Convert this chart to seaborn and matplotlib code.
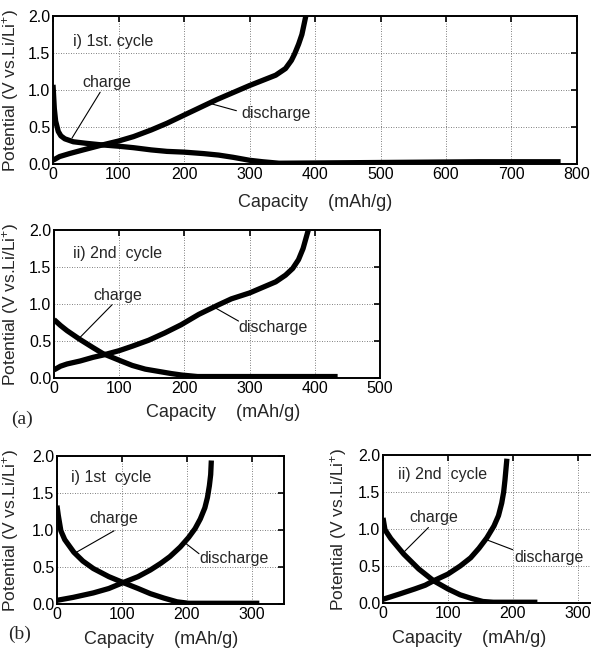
import matplotlib
matplotlib.use("Agg")
import matplotlib.pyplot as plt
import seaborn as sns
import numpy as np

# ---- (a) 1st cycle ----
a1_charge_cap = [0, 2, 4, 8, 12, 18, 31, 50, 72, 100, 123, 150, 174, 200, 230, 253,
                 275, 300, 320, 345, 500, 650, 775]
a1_charge_v = [1.07, 0.75, 0.58, 0.44, 0.38, 0.34, 0.30, 0.28, 0.26, 0.24, 0.22, 0.19,
               0.17, 0.16, 0.14, 0.12, 0.09, 0.05, 0.03, 0.01, 0.02, 0.03, 0.03]
a1_dis_cap = [0, 10, 25, 46, 72, 100, 123, 150, 174, 200, 250, 300, 340, 355, 364,
              369, 375, 380, 386]
a1_dis_v = [0.05, 0.10, 0.14, 0.19, 0.25, 0.31, 0.37, 0.46, 0.55, 0.66, 0.87, 1.06,
            1.20, 1.29, 1.40, 1.49, 1.62, 1.75, 2.00]

# ---- (a) 2nd cycle ----
a2_charge_cap = [0, 10, 20, 40, 60, 75, 100, 120, 140, 160, 180, 196, 220, 435]
a2_charge_v = [0.79, 0.71, 0.64, 0.52, 0.41, 0.33, 0.24, 0.17, 0.12, 0.09, 0.06, 0.04,
               0.02, 0.02]
a2_dis_cap = [0, 10, 20, 40, 60, 75, 100, 120, 145, 170, 195, 222, 250, 272, 300, 324,
              340, 355, 366, 375, 382, 390]
a2_dis_v = [0.11, 0.16, 0.19, 0.23, 0.28, 0.31, 0.37, 0.43, 0.51, 0.61, 0.72, 0.86,
            0.98, 1.07, 1.15, 1.24, 1.30, 1.39, 1.48, 1.60, 1.75, 2.00]

# ---- (b) 1st cycle ----
b1_charge_cap = [0, 2, 6, 12, 26, 40, 56, 80, 102, 125, 144, 165, 185, 203, 312]
b1_charge_v = [1.33, 1.20, 0.99, 0.87, 0.70, 0.58, 0.48, 0.37, 0.29, 0.21, 0.14, 0.08,
               0.03, 0.01, 0.01]
b1_dis_cap = [0, 25, 56, 80, 102, 125, 144, 160, 174, 190, 203, 213, 221, 228, 232,
              235, 237, 238]
b1_dis_v = [0.05, 0.09, 0.15, 0.21, 0.29, 0.37, 0.46, 0.55, 0.64, 0.77, 0.90, 1.02,
            1.15, 1.30, 1.44, 1.60, 1.75, 1.94]

# ---- (b) 2nd cycle ----
b2_charge_cap = [0, 3, 12, 32, 55, 78, 100, 119, 137, 154, 170, 238]
b2_charge_v = [1.15, 0.99, 0.87, 0.66, 0.46, 0.30, 0.19, 0.11, 0.06, 0.02, 0.01, 0.01]
b2_dis_cap = [0, 25, 49, 65, 78, 100, 119, 135, 148, 160, 171, 178, 183, 186, 188, 191]
b2_dis_v = [0.05, 0.12, 0.19, 0.24, 0.30, 0.39, 0.50, 0.61, 0.74, 0.88, 1.04, 1.18,
            1.35, 1.50, 1.66, 1.95]

y_ticks = [0.0, 0.5, 1.0, 1.5, 2.0]
y_tick_labels = ["0.0", "0.5", "1.0", "1.5", "2.0"]

sns.set_theme(style="white")
plt.rcParams["font.family"] = ["Liberation Sans", "DejaVu Sans"]
plt.rcParams["mathtext.default"] = "regular"

fig = plt.figure(figsize=(5.91, 6.53), dpi=100)
fig.patch.set_facecolor("white")

panels = [
    dict(rect=[0.0897, 0.7489, 0.8866, 0.2266], xmax=800, xticks=range(0, 801, 100),
         charge=(a1_charge_cap, a1_charge_v), dis=(a1_dis_cap, a1_dis_v),
         title="i) 1st. cycle", title_xy=(31, 1.65),
         ch_text=(45, 1.10), ch_line=((72, 0.97), (29, 0.35)),
         dc_text=(288, 0.68), dc_line=((280, 0.72), (235, 0.83)),
         xlab_x=0.5, xlab_y=-0.20, ylab_x=-0.061),
    dict(rect=[0.0914, 0.4211, 0.5516, 0.2266], xmax=500, xticks=range(0, 501, 100),
         charge=(a2_charge_cap, a2_charge_v), dis=(a2_dis_cap, a2_dis_v),
         title="ii) 2nd  cycle", title_xy=(29, 1.68),
         ch_text=(60, 1.12), ch_line=((89, 0.99), (40, 0.55)),
         dc_text=(282, 0.68), dc_line=((283, 0.77), (247, 0.95)),
         xlab_x=0.52, xlab_y=-0.175, ylab_x=-0.101),
    dict(rect=[0.0964, 0.0750, 0.3841, 0.2266], xmax=350, xticks=range(0, 301, 100),
         charge=(b1_charge_cap, b1_charge_v), dis=(b1_dis_cap, b1_dis_v),
         title="i) 1st  cycle", title_xy=(21, 1.71),
         ch_text=(50, 1.15), ch_line=((88, 0.99), (26, 0.68)),
         dc_text=(220, 0.61), dc_line=((219, 0.68), (197, 0.83)),
         xlab_x=0.46, xlab_y=-0.18, ylab_x=-0.159),
    dict(rect=[0.6481, 0.0766, 0.3841, 0.2266], xmax=350, xticks=range(0, 301, 100),
         charge=(b2_charge_cap, b2_charge_v), dis=(b2_dis_cap, b2_dis_v),
         title="ii) 2nd  cycle", title_xy=(23, 1.73),
         ch_text=(41, 1.15), ch_line=((70, 1.02), (29, 0.66)),
         dc_text=(203, 0.62), dc_line=((200, 0.72), (161, 0.85)),
         xlab_x=0.38, xlab_y=-0.18, ylab_x=-0.15),
]

for p in panels:
    ax = fig.add_axes(p["rect"])
    ax.set_facecolor("white")
    sns.lineplot(x=p["charge"][0], y=p["charge"][1], ax=ax, sort=False,
                 color="black", linewidth=3.8, solid_capstyle="butt",
                 solid_joinstyle="round")
    sns.lineplot(x=p["dis"][0], y=p["dis"][1], ax=ax, sort=False,
                 color="black", linewidth=3.8, solid_capstyle="butt",
                 solid_joinstyle="round")
    ax.set_xlim(0, p["xmax"])
    ax.set_ylim(0, 2.0)
    ax.set_xticks(list(p["xticks"]))
    ax.set_xticklabels([str(t) for t in p["xticks"]])
    ax.set_yticks(y_ticks)
    ax.set_yticklabels(y_tick_labels)
    ax.grid(True, linestyle=(0, (1, 2)), color="#555555", linewidth=0.6)
    ax.tick_params(direction="in", length=4, width=1.2, top=True, right=True,
                   labelsize=11.5, pad=2, colors="black")
    for s in ax.spines.values():
        s.set_visible(True)
        s.set_color("black")
        s.set_linewidth(1.4)
    ax.set_xlabel("Capacity    (mAh/g)", fontsize=13)
    ax.xaxis.set_label_coords(p["xlab_x"], p["xlab_y"])
    ax.set_ylabel("Potential (V vs.Li/Li$^{+}$)", fontsize=12.5)
    ax.yaxis.set_label_coords(p["ylab_x"], 0.5)

    ax.text(p["title_xy"][0], p["title_xy"][1], p["title"], fontsize=11.5,
            ha="left", va="center")
    ax.text(p["ch_text"][0], p["ch_text"][1], "charge", fontsize=11.5,
            ha="left", va="center")
    ax.text(p["dc_text"][0], p["dc_text"][1], "discharge", fontsize=11.5,
            ha="left", va="center")
    for (x0, y0), (x1, y1) in (p["ch_line"], p["dc_line"]):
        ax.plot([x0, x1], [y0, y1], color="black", linewidth=0.8)

fig.text(22 / 591, 1 - 419 / 653, "(a)", family="Liberation Serif", fontsize=14,
         ha="center", va="center")
fig.text(20 / 591, 1 - 634 / 653, "(b)", family="Liberation Serif", fontsize=14,
         ha="center", va="center")

fig.savefig("out.png", dpi=100, facecolor="white")
